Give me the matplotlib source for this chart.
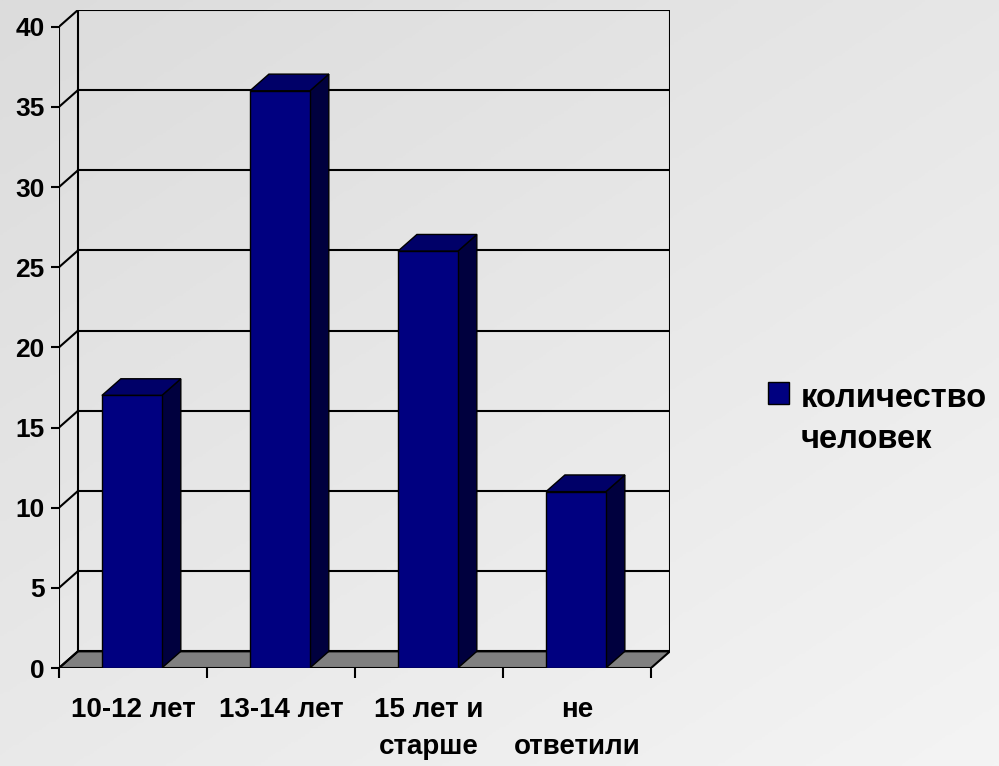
import numpy as np
import matplotlib.pyplot as plt
from matplotlib.patches import Polygon, Rectangle
from matplotlib.colors import LinearSegmentedColormap

####### chart data #######
categories = ['10-12 лет', '13-14 лет', '15 лет и\nстарше', 'не\nответили']
values = [17, 36, 26, 11]
series_name = 'количество\nчеловек'
y_ticks = [0, 5, 10, 15, 20, 25, 30, 35, 40]

plt.rcParams['font.family'] = ['Liberation Sans', 'DejaVu Sans']
plt.rcParams['font.weight'] = 'bold'

W, H = 999, 766
DX, DY = 0.128, 1.04   # 3d depth offset, in data units
BAR_W = 0.405          # bar width, in category units
BAR_OFF = 0.29         # bar start inside its category
Y_MAX = y_ticks[-1]

FRONT = '#000080'
TOP = '#000068'
SIDE = '#00003e'
FLOOR = '#808080'


def main():
    fig = plt.figure(figsize=(W / 100, H / 100), dpi=100)

    # soft gray gradient background
    bg = fig.add_axes([0, 0, 1, 1], zorder=-10)
    xx, yy = np.meshgrid(np.linspace(0, 1, 300), np.linspace(0, 1, 300))
    cmap = LinearSegmentedColormap.from_list('bg', ['#dcdcdc', '#f4f4f4'])
    bg.imshow(xx * 0.45 + yy * 0.55, cmap=cmap, extent=[0, 1, 0, 1],
              aspect='auto', origin='upper')
    bg.axis('off')

    ax = fig.add_axes([59 / W, (H - 668) / H, 611 / W, 658 / H])
    ax.patch.set_alpha(0)
    n = len(categories)
    ax.set_xlim(0, n + DX)
    ax.set_ylim(0, Y_MAX + DY)
    for s in ax.spines.values():
        s.set_visible(False)

    # floor
    ax.add_patch(Polygon([(0, 0), (n, 0), (n + DX, DY), (DX, DY)], closed=True,
                         fc=FLOOR, ec='black', lw=1.5, zorder=1))

    # walls: gridlines on back wall and side wall
    for v in y_ticks:
        ax.plot([DX, n + DX], [v + DY, v + DY], color='black', lw=1.5, zorder=2)
        ax.plot([0, DX], [v, v + DY], color='black', lw=1.5, zorder=2)
    ax.plot([DX, DX], [DY, Y_MAX + DY], color='black', lw=1.5, zorder=2)
    ax.plot([n + DX, n + DX], [DY, Y_MAX + DY], color='black', lw=1.5, zorder=2)
    ax.plot([0, 0], [0, Y_MAX], color='black', lw=1.5, zorder=6)

    # 3d bars
    for i, v in enumerate(values):
        x0 = i + BAR_OFF
        x1 = x0 + BAR_W
        ax.add_patch(Polygon([(x1, 0), (x1 + DX, DY), (x1 + DX, v + DY), (x1, v)],
                             closed=True, fc=SIDE, ec='black', lw=1, zorder=3))
        ax.add_patch(Polygon([(x0, v), (x1, v), (x1 + DX, v + DY), (x0 + DX, v + DY)],
                             closed=True, fc=TOP, ec='black', lw=1, zorder=3))
        ax.add_patch(Rectangle((x0, 0), BAR_W, v, fc=FRONT, ec='black', lw=1,
                               zorder=4))

    # axes ticks
    ax.set_yticks(y_ticks)
    ax.tick_params(axis='y', direction='out', length=5.5, width=1.5, pad=5,
                   labelsize=19)
    ax.set_xticks(range(n + 1))
    ax.set_xticklabels([])
    ax.set_xticks([i + 0.5 for i in range(n)], minor=True)
    ax.set_xticklabels(categories, minor=True)
    ax.tick_params(axis='x', which='major', direction='out', length=7, width=1.5)
    ax.tick_params(axis='x', which='minor', length=0, pad=21, labelsize=20)
    for lbl in ax.get_xticklabels(minor=True):
        lbl.set_linespacing(1.52)

    # legend
    fig.add_artist(Rectangle((768 / W, 1 - 404 / H), 21 / W, 22 / H,
                             transform=fig.transFigure, fc=FRONT, ec='black', lw=1))
    for k, line in enumerate(series_name.split('\n')):
        fig.text(801 / W, 1 - (407 + 41 * k) / H, line, fontsize=23.5,
                 fontweight='bold', va='baseline', ha='left')

    fig.savefig('out.png', dpi=100)


if __name__ == '__main__':
    main()
